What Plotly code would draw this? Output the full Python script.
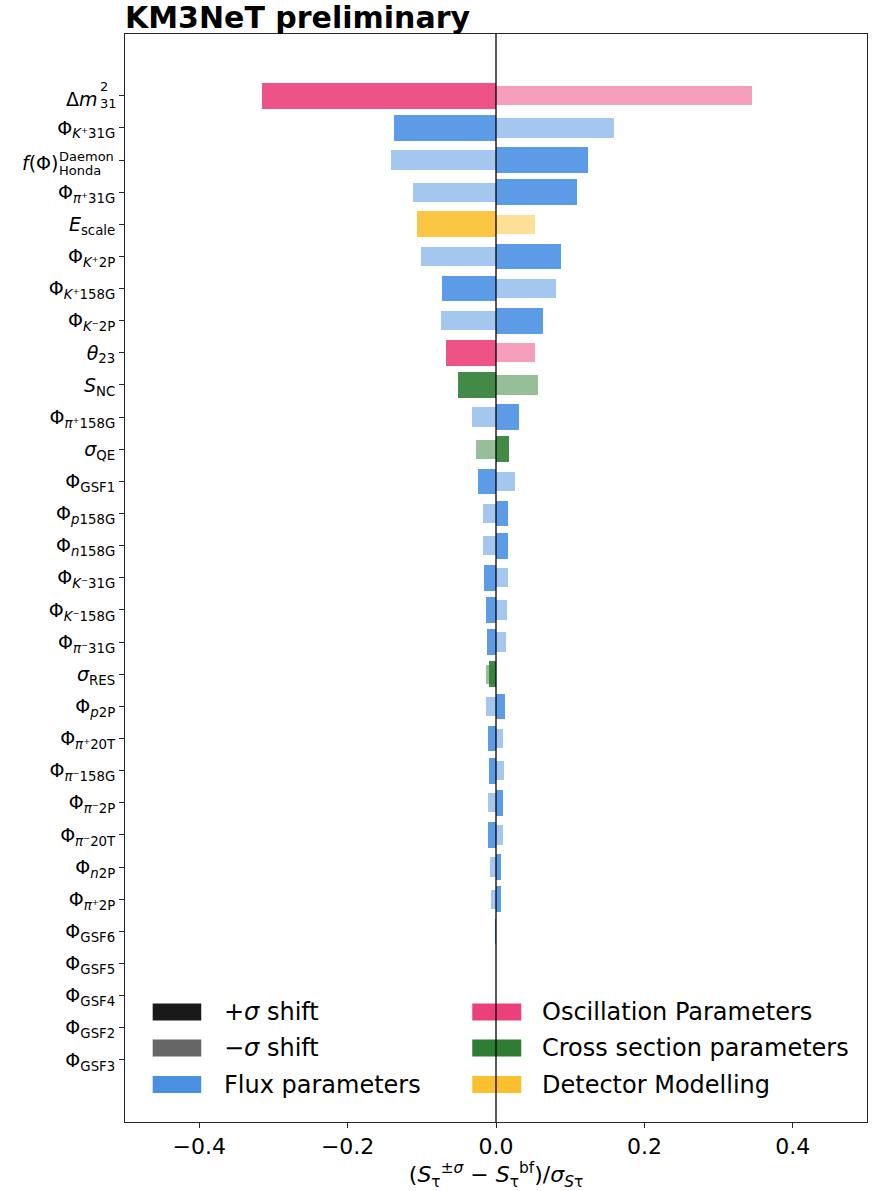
import plotly.graph_objects as go

# Systematic parameters, top to bottom
labels = [
    "STACK", "Φ<sub><i>K</i>⁺31G</sub>", "STACK", "Φ<sub><i>π</i>⁺31G</sub>",
    "<i>E</i><sub>scale</sub>", "Φ<sub><i>K</i>⁺2P</sub>", "Φ<sub><i>K</i>⁺158G</sub>",
    "Φ<sub><i>K</i>⁻2P</sub>", "<i>θ</i><sub>23</sub>", "<i>S</i><sub>NC</sub>",
    "Φ<sub><i>π</i>⁺158G</sub>", "<i>σ</i><sub>QE</sub>", "Φ<sub>GSF1</sub>",
    "Φ<sub><i>p</i>158G</sub>", "Φ<sub><i>n</i>158G</sub>", "Φ<sub><i>K</i>⁻31G</sub>",
    "Φ<sub><i>K</i>⁻158G</sub>", "Φ<sub><i>π</i>⁻31G</sub>", "<i>σ</i><sub>RES</sub>",
    "Φ<sub><i>p</i>2P</sub>", "Φ<sub><i>π</i>⁺20T</sub>", "Φ<sub><i>π</i>⁻158G</sub>",
    "Φ<sub><i>π</i>⁻2P</sub>", "Φ<sub><i>π</i>⁻20T</sub>", "Φ<sub><i>n</i>2P</sub>",
    "Φ<sub><i>π</i>⁺2P</sub>", "Φ<sub>GSF6</sub>", "Φ<sub>GSF5</sub>",
    "Φ<sub>GSF4</sub>", "Φ<sub>GSF2</sub>", "Φ<sub>GSF3</sub>",
]

categories = [
    "osc", "flux", "flux", "flux", "det", "flux", "flux", "flux", "osc", "xsec",
    "flux", "xsec", "flux", "flux", "flux", "flux", "flux", "flux", "xsec", "flux",
    "flux", "flux", "flux", "flux", "flux", "flux", "flux", "flux", "flux", "flux", "flux",
]

# Shift of the tau normalisation for a +1 sigma variation of each parameter
plus_shift = [
    -0.316, -0.138, 0.124, 0.109, -0.106, 0.0875, -0.0722, 0.0629, -0.0677, -0.0512,
    0.0306, 0.018, -0.0242, 0.0167, 0.0167, -0.0156, -0.0135, -0.0121, -0.0089, 0.0121,
    -0.0112, -0.0098, 0.010, -0.0112, 0.0063, 0.0063, -0.0008, -0.0006, 0.0, 0.0, 0.0,
]

# ... and for a -1 sigma variation
minus_shift = [
    0.345, 0.159, -0.141, -0.112, 0.052, -0.101, 0.0804, -0.0745, 0.052, 0.0566,
    -0.0323, -0.0264, 0.0261, -0.0179, -0.0179, 0.0167, 0.0144, 0.0131, -0.0135, -0.0135,
    0.010, 0.0108, -0.0112, 0.010, -0.0075, -0.0062, 0.0003, 0.0002, 0.0, 0.0, 0.0,
]

category_names = {
    "flux": "Flux parameters",
    "osc": "Oscillation Parameters",
    "xsec": "Cross section parameters",
    "det": "Detector Modelling",
}
category_rgb = {
    "osc": (236, 64, 122),
    "flux": (74, 144, 226),
    "xsec": (46, 125, 50),
    "det": (251, 192, 45),
}

FONT = "DejaVu Sans"
W, H = 876, 1191
L, R, T, B = 125, 8.5, 34, 69


def rgba(rgb, a):
    return "rgba(%d,%d,%d,%.2f)" % (rgb[0], rgb[1], rgb[2], a)


def px_x(px):
    return (px - L) / (W - L - R)


def px_y(py):
    return (H - B - py) / (H - T - B)


rows = list(range(len(labels)))

fig = go.Figure()

# -sigma bars (light, thinner) drawn first, +sigma bars on top
fig.add_trace(go.Bar(
    y=rows, x=minus_shift, orientation="h", width=0.6,
    marker=dict(color=[rgba(category_rgb[c], 0.5) for c in categories], line_width=0),
    name="−σ shift", showlegend=False,
))
fig.add_trace(go.Bar(
    y=rows, x=plus_shift, orientation="h", width=0.8,
    marker=dict(color=[rgba(category_rgb[c], 0.9) for c in categories], line_width=0),
    name="+σ shift", showlegend=False,
))

tick_text = ["" if t == "STACK" else t for t in labels]

annotations = []

# Labels with stacked super/subscripts
def stacked(row, base, base_right, base_dy, sup, sup_dy, sub, sub_dy, left):
    annotations.append(dict(
        xref="paper", yref="y", x=0, y=row, xshift=base_right - L, yshift=base_dy,
        text=base, showarrow=False, xanchor="right", yanchor="middle",
        font=dict(family=FONT, size=19, color="black"),
    ))
    annotations.append(dict(
        xref="paper", yref="y", x=0, y=row, xshift=left - L, yshift=sup_dy,
        text=sup, showarrow=False, xanchor="left", yanchor="middle",
        font=dict(family=FONT, size=13, color="black"),
    ))
    annotations.append(dict(
        xref="paper", yref="y", x=0, y=row, xshift=left - L, yshift=sub_dy,
        text=sub, showarrow=False, xanchor="left", yanchor="middle",
        font=dict(family=FONT, size=13, color="black"),
    ))


stacked(0, "Δ<i>m</i>", 100, -3, "2", 9, "31", -8, 98)
stacked(2, "<i>f</i>(Φ)", 60, -3, "Daemon", 4, "Honda", -10, 57)

# Legend built from patches and labels
shift_entries = [("+<i>σ</i> shift", (0, 0, 0), 0.9), ("−<i>σ</i> shift", (0, 0, 0), 0.6),
                 (category_names["flux"], category_rgb["flux"], 1.0)]
cat_entries = [(category_names[k], category_rgb[k], 1.0) for k in ("osc", "xsec", "det")]
row_centers = [1012, 1048, 1084.5]
shapes = []
for col, (entries, x0, x1, xt) in enumerate([
    (shift_entries, 152.7, 201.3, 222.5),
    (cat_entries, 472.5, 521.5, 540),
]):
    for (name, rgb, a), yc in zip(entries, row_centers):
        shapes.append(dict(
            type="rect", xref="paper", yref="paper",
            x0=px_x(x0), x1=px_x(x1), y0=px_y(yc + 8.5), y1=px_y(yc - 8.5),
            fillcolor=rgba(rgb, a), line_width=0, layer="above",
        ))
        annotations.append(dict(
            xref="paper", yref="paper", x=px_x(xt), y=px_y(yc),
            text=name, showarrow=False, xanchor="left", yanchor="middle",
            font=dict(family=FONT, size=24, color="black"),
        ))

# Zero line
shapes.append(dict(
    type="line", xref="x", yref="paper", x0=0, x1=0, y0=0, y1=1,
    line=dict(color="black", width=1.3), layer="above",
))

fig.update_layout(
    width=W, height=H,
    margin=dict(l=L, r=R, t=T, b=B),
    paper_bgcolor="white", plot_bgcolor="white",
    barmode="overlay", bargap=0,
    font=dict(family=FONT, color="black"),
    title=dict(
        text="<b>KM3NeT preliminary</b>",
        x=L / W, xanchor="left", xref="container",
        y=1 - 17 / H, yanchor="middle", yref="container",
        font=dict(family=FONT, size=30, color="black"),
    ),
    xaxis=dict(
        range=[-0.5, 0.5], tickvals=[-0.4, -0.2, 0.0, 0.2, 0.4], tickformat=".1f",
        showgrid=False, zeroline=False,
        showline=True, mirror=True, linecolor="#262626", linewidth=1,
        ticks="outside", ticklen=5, tickcolor="#262626",
        tickfont=dict(family=FONT, size=22, color="black"),
        title=dict(
            text="(<i>S</i><sub>τ</sub><sup>±<i>σ</i></sup> − <i>S</i><sub>τ</sub><sup>bf</sup>)/<i>σ</i><sub><i>S</i>τ</sub>",
            font=dict(family=FONT, size=22, color="black"), standoff=6,
        ),
    ),
    yaxis=dict(
        range=[31.93, -1.92], tickvals=rows, ticktext=tick_text,
        showgrid=False, zeroline=False,
        showline=True, mirror=True, linecolor="#262626", linewidth=1,
        ticks="outside", ticklen=5, tickcolor="#262626",
        tickfont=dict(family=FONT, size=19, color="black"),
    ),
    shapes=shapes,
    annotations=annotations,
)

fig.write_html("out.html")
